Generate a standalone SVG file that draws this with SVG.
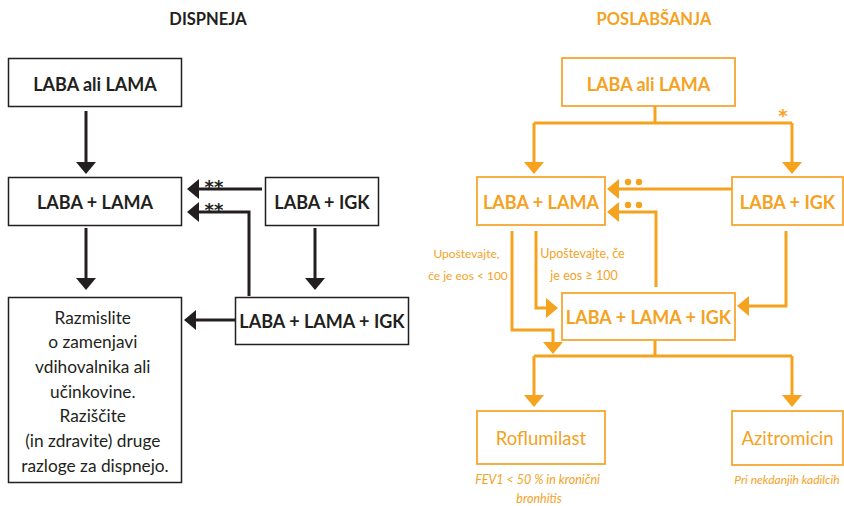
<svg xmlns="http://www.w3.org/2000/svg" width="844" height="506" viewBox="0 0 844 506">
<style>
  .bg{fill:#fff}
  .kbox{fill:#fff;stroke:#231f20;stroke-width:1.5}
  .obox{fill:#fff;stroke:#f7a731;stroke-width:1.8}
  .kt{font-family:Lato,"Open Sans","Liberation Sans",sans-serif;fill:#231f20;text-anchor:middle}
  .ot{font-family:Lato,"Open Sans","Liberation Sans",sans-serif;fill:#f5a21f;text-anchor:middle}
  .b{font-weight:700}
  .star{font-family:"DejaVu Sans","Liberation Sans",sans-serif;font-weight:700}
  .kline{fill:none;stroke:#231f20;stroke-width:3}
  .oline{fill:none;stroke:#f5a21f;stroke-width:3}
</style>
<defs>
  <marker id="ak" viewBox="0 0 12 20" refX="6" refY="10" markerWidth="12" markerHeight="20" orient="auto" markerUnits="userSpaceOnUse">
    <path d="M0,0 L12,10 L0,20 Z" fill="#231f20"/>
  </marker>
  <marker id="ao" viewBox="0 0 12 20" refX="6" refY="10" markerWidth="12" markerHeight="20" orient="auto" markerUnits="userSpaceOnUse">
    <path d="M0,0 L12,10 L0,20 Z" fill="#f5a21f"/>
  </marker>
</defs>
<rect class="bg" x="0" y="0" width="844" height="506"/>

<text class="kt b" x="208" y="25" font-size="16.5">DISPNEJA</text>
<text class="ot b" x="654" y="25" font-size="16.5">POSLABŠANJA</text>

<!-- left nodes -->
<g id="d-laba-ali-lama">
  <rect class="kbox" x="8.5" y="58.5" width="173" height="48"/>
  <text class="kt b" x="95" y="91" font-size="18">LABA ali LAMA</text>
</g>
<g id="d-laba-lama">
  <rect class="kbox" x="8.5" y="177.5" width="173" height="48"/>
  <text class="kt b" x="95" y="209" font-size="18">LABA + LAMA</text>
</g>
<g id="d-laba-igk">
  <rect class="kbox" x="265.5" y="177.5" width="113" height="48"/>
  <text class="kt b" x="322" y="209" font-size="18">LABA + IGK</text>
</g>
<g id="d-triple">
  <rect class="kbox" x="235.5" y="297.5" width="173" height="47"/>
  <text class="kt b" x="322" y="328" font-size="18">LABA + LAMA + IGK</text>
</g>
<g id="d-razmislite">
  <rect class="kbox" x="8.5" y="297.5" width="173" height="185"/>
  <text class="kt" font-size="17.3">
    <tspan x="95" y="324">Razmislite</tspan>
    <tspan x="95" y="348">o zamenjavi</tspan>
    <tspan x="95" y="373">vdihovalnika ali</tspan>
    <tspan x="95" y="398">učinkovine.</tspan>
    <tspan x="95" y="422">Raziščite</tspan>
    <tspan x="95" y="447">(in zdravite) druge</tspan>
    <tspan x="95" y="472">razloge za dispnejo.</tspan>
  </text>
</g>

<!-- right nodes -->
<g id="p-laba-ali-lama">
  <rect class="obox" x="562" y="58" width="173" height="48"/>
  <text class="ot b" x="648.5" y="91" font-size="18">LABA ali LAMA</text>
</g>
<g id="p-laba-lama">
  <rect class="obox" x="477" y="177" width="128" height="48"/>
  <text class="ot b" x="541" y="209" font-size="18">LABA + LAMA</text>
</g>
<g id="p-laba-igk">
  <rect class="obox" x="732" y="177" width="111" height="48"/>
  <text class="ot b" x="787.5" y="209" font-size="18">LABA + IGK</text>
</g>
<g id="p-triple">
  <rect class="obox" x="562" y="293" width="173" height="47"/>
  <text class="ot b" x="648.5" y="324" font-size="18">LABA + LAMA + IGK</text>
</g>
<g id="p-roflumilast">
  <rect class="obox" x="477" y="411" width="128" height="53"/>
  <text class="ot" x="541" y="445" font-size="18.5">Roflumilast</text>
  <text class="ot" font-size="12.5" font-style="italic">
    <tspan x="539" y="484">FEV1 &lt; 50 % in kronični</tspan>
    <tspan x="539" y="503">bronhitis</tspan>
  </text>
</g>
<g id="p-azitromicin">
  <rect class="obox" x="732" y="411" width="111" height="54"/>
  <text class="ot" x="787.5" y="445" font-size="18.5">Azitromicin</text>
  <text class="ot" x="787" y="484" font-size="12" font-style="italic">Pri nekdanjih kadilcih</text>
</g>

<!-- connectors -->
<g id="connectors">
  <path class="kline" d="M86,111 V168" marker-end="url(#ak)"/>
  <path class="kline" d="M262,189 H193" marker-end="url(#ak)"/>
  <path class="kline" d="M249,296 V212 H193" marker-end="url(#ak)"/>
  <path class="kline" d="M86,228 V284" marker-end="url(#ak)"/>
  <path class="kline" d="M315,228 V284" marker-end="url(#ak)"/>
  <path class="kline" d="M236,320 H190" marker-end="url(#ak)"/>
  <text class="kt star" x="214" y="193" font-size="18">**</text>
  <text class="kt star" x="214" y="216" font-size="18">**</text>

  <path class="oline" d="M655,106 V123"/>
  <path class="oline" d="M534,123 H792"/>
  <path class="oline" d="M534,123 V168" marker-end="url(#ao)"/>
  <path class="oline" d="M792,123 V168" marker-end="url(#ao)"/>
  <text class="ot star" x="783" y="122" font-size="18">*</text>
  <path class="oline" d="M732,189 H613" marker-end="url(#ao)"/>
  <path class="oline" d="M656,287 V212 H613" marker-end="url(#ao)"/>
  <circle cx="628" cy="182" r="3.2" fill="#f5a21f"/>
  <circle cx="639" cy="182" r="3.2" fill="#f5a21f"/>
  <circle cx="628" cy="205" r="3.2" fill="#f5a21f"/>
  <circle cx="639" cy="205" r="3.2" fill="#f5a21f"/>
  <path class="oline" d="M512,231 V330 H553 V348" marker-end="url(#ao)"/>
  <path class="oline" d="M536,231 V308 H552" marker-end="url(#ao)"/>
  <path class="oline" d="M786,231 V306 H743" marker-end="url(#ao)"/>
  <path class="oline" d="M655,340 V356"/>
  <path class="oline" d="M534,356 H792"/>
  <path class="oline" d="M534,356 V401" marker-end="url(#ao)"/>
  <path class="oline" d="M792,356 V401" marker-end="url(#ao)"/>
  <text class="ot" font-size="12">
    <tspan x="468" y="258">Upoštevajte,</tspan>
    <tspan x="468" y="280">če je eos &lt; 100</tspan>
  </text>
  <text class="ot" font-size="12.5">
    <tspan x="584" y="258">Upoštevajte, če</tspan>
    <tspan x="584" y="280">je eos ≥ 100</tspan>
  </text>
</g>
</svg>
